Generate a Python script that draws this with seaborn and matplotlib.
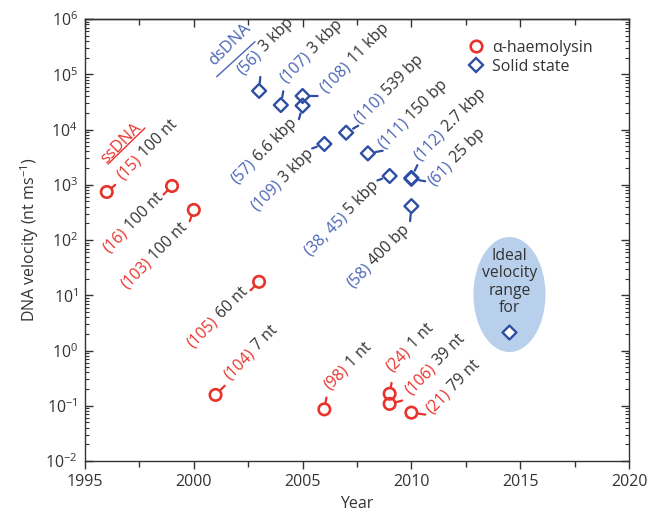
import numpy as np
import pandas as pd
import matplotlib
matplotlib.use("Agg")
import matplotlib.pyplot as plt
import matplotlib.transforms as mtransforms
from matplotlib.patches import Ellipse
from matplotlib.lines import Line2D
from matplotlib.font_manager import FontProperties
from matplotlib.ticker import FixedLocator, LogLocator, NullFormatter
import seaborn as sns

# ---------------------------------------------------------------- data
# alpha-haemolysin pores
ah_year = [1996, 1999, 2000, 2003, 2001, 2006, 2009, 2009, 2010]
ah_velocity = [740, 950, 350, 17.5, 0.157, 0.086, 0.165, 0.108, 0.075]
ah_ref = ["(15)", "(16)", "(103)", "(105)", "(104)", "(98)", "(24)", "(106)", "(21)"]
ah_length = ["100 nt", "100 nt", "100 nt", "60 nt", "7 nt", "1 nt", "1 nt", "39 nt", "79 nt"]

# solid-state pores
ss_year = [2003, 2004, 2005, 2005, 2006, 2007, 2008, 2009, 2010, 2010, 2010]
ss_velocity = [50000, 27700, 40400, 27000, 5470, 8750, 3700, 1440, 1330, 1280, 410]
ss_ref = ["(56)", "(107)", "(108)", "(57)", "(109)", "(110)", "(111)", "(38, 45)",
          "(112)", "(61)", "(58)"]
ss_length = ["3 kbp", "3 kbp", "11 kbp", "6.6 kbp", "3 kbp", "539 bp", "150 bp",
             "5 kbp", "2.7 kbp", "25 bp", "400 bp"]

# target for sequencing
ideal_year = [2014.5]
ideal_velocity = [2.2]

x_ticks = [1995, 2000, 2005, 2010, 2015, 2020]

# ---------------------------------------------------------------- layout of the callouts
# stick: (angle in degrees, start radius px, end radius px)
# label: (dx px, dy px, side) -- 'L' text runs up-right from the anchor,
#                                'R' text ends at the anchor
ah_stick = [(40, 6, 11), (225, 6, 12), (250, 6, 12), (225, 6, 12), (45, 6, 13),
            (80, 6, 12), (80, 6, 11), (15, 6, 13), (-8, 7, 14)]
ah_label = [(16, 12, "L"), (-8, -12, "R"), (-6, -18, "R"), (-11, -11, "R"),
            (14, 15, "L"), (5, 19, "L"), (2, 22, "L"), (21, 9, "L"), (20, -2, "L")]
ss_stick = [(85, 8, 14), (80, 8, 14), (0, 8, 15), (255, 8, 14), (200, 8, 13),
            (30, 8, 14), (10, 8, 15), (200, 8, 13), (65, 8, 14), (-10, 8, 14),
            (265, 8, 15)]
ss_label = [(-16, 16, "L"), (5, 22, "L"), (23, 3, "L"), (-5, -18, "R"),
            (-10, -10, "R"), (13, 8, "L"), (16, 4, "L"), (-10, -10, "R"),
            (8, 17, "L"), (22, -7, "L"), (-1, -24, "R")]

RED = "#E8332B"
BLUE = "#2D4EA3"
BLUE_TXT = "#4A64B6"
DARK = "#333333"
FS = 11.3

sns.set_theme(style="ticks")
plt.rcParams["font.family"] = ["Open Sans", "DejaVu Sans"]
plt.rcParams["mathtext.default"] = "regular"
plt.rcParams["axes.edgecolor"] = DARK
plt.rcParams["axes.linewidth"] = 1.0
plt.rcParams["xtick.color"] = DARK
plt.rcParams["ytick.color"] = DARK
plt.rcParams["text.color"] = DARK
plt.rcParams["axes.labelcolor"] = DARK

fig = plt.figure(figsize=(6.51, 5.15), dpi=100)
ax = fig.add_axes([85 / 651, 1 - 461 / 515, 544 / 651, 442 / 515])

ah_df = pd.DataFrame({"year": ah_year, "velocity": ah_velocity})
ss_df = pd.DataFrame({"year": ss_year, "velocity": ss_velocity})
ideal_df = pd.DataFrame({"year": ideal_year, "velocity": ideal_velocity})

ax.set_yscale("log")
ax.set_xlim(1995, 2020)
ax.set_ylim(1e-2, 1e6)

# shaded target region behind everything
ax.add_patch(Ellipse((0.7803, 0.3767), 0.1324, 0.2602, transform=ax.transAxes,
                     facecolor="#B9D0EC", edgecolor="none", zorder=0))
ax.text(0.7803, 0.405, "Ideal\nvelocity\nrange\nfor", transform=ax.transAxes,
        ha="center", va="center", fontsize=FS, color=DARK, linespacing=1.12, zorder=1)

sns.scatterplot(data=ah_df, x="year", y="velocity", marker="o", s=68,
                facecolor="none", edgecolor=RED, linewidth=1.9, ax=ax, zorder=3)
sns.scatterplot(data=ss_df, x="year", y="velocity", marker="D", s=50,
                facecolor="none", edgecolor=BLUE, linewidth=1.7, ax=ax, zorder=3)
sns.scatterplot(data=ideal_df, x="year", y="velocity", marker="D", s=50,
                facecolor="white", edgecolor=BLUE, linewidth=1.7, ax=ax, zorder=3)

renderer = fig.canvas.get_renderer()
label_font = FontProperties(family=["Open Sans", "DejaVu Sans"], size=FS)


def text_width(s):
    w, _, _ = renderer.get_text_width_height_descent(s, label_font, ismath=False)
    return w


c45 = s45 = np.sqrt(0.5)


def shifted(dx, dy):
    return ax.transData + mtransforms.Affine2D().translate(dx, dy)


def callout(x, y, ref, value, color, ref_color, stick, label):
    ang, r0, r1 = stick
    a = np.deg2rad(ang)
    ax.annotate("", xy=(x, y), xycoords=shifted(r0 * np.cos(a), r0 * np.sin(a)),
                xytext=(x, y), textcoords=shifted(r1 * np.cos(a), r1 * np.sin(a)),
                arrowprops=dict(arrowstyle="-", color=color, lw=1.6,
                                shrinkA=0, shrinkB=0), zorder=2)
    dx, dy, side = label
    w_full = text_width(ref + " " + value)
    w_val = text_width(value)
    w_ref = w_full - w_val
    if side == "R":
        dx, dy = dx - w_full * c45, dy - w_full * s45
    for txt, col, off in ((ref, ref_color, 0.0), (value, DARK, w_ref)):
        ax.text(x, y, txt, color=col, fontproperties=label_font, rotation=45,
                rotation_mode="anchor", ha="left", va="baseline",
                transform=shifted(dx + off * c45, dy + off * s45))


for i in range(len(ah_year)):
    callout(ah_year[i], ah_velocity[i], ah_ref[i], ah_length[i], RED, RED,
            ah_stick[i], ah_label[i])
for i in range(len(ss_year)):
    callout(ss_year[i], ss_velocity[i], ss_ref[i], ss_length[i], BLUE, BLUE_TXT,
            ss_stick[i], ss_label[i])

# group headings with underline
ax.text(0.0662, 0.7195, "ssDNA", transform=ax.transAxes, rotation=45,
        ha="center", va="center", rotation_mode="anchor", fontsize=FS + 0.5, color=RED)
ax.plot([0.0423, 0.1103], [0.6719, 0.7534], transform=ax.transAxes, color=RED, lw=1.0)
ax.text(0.2665, 0.9412, "dsDNA", transform=ax.transAxes, rotation=45,
        ha="center", va="center", rotation_mode="anchor", fontsize=FS + 0.5, color=BLUE_TXT)
ax.plot([0.2421, 0.3125], [0.8695, 0.9487], transform=ax.transAxes, color=BLUE_TXT, lw=1.0)

# axes, ticks
ax.set_xticks(x_ticks)
ax.xaxis.set_minor_locator(FixedLocator(np.arange(1997.5, 2020, 5)))
ax.yaxis.set_major_locator(LogLocator(base=10, numticks=20))
ax.yaxis.set_minor_locator(LogLocator(base=10, subs=np.arange(2, 10), numticks=100))
ax.yaxis.set_minor_formatter(NullFormatter())
ax.tick_params(axis="x", which="major", direction="out", length=6, width=1.0,
               labelsize=11.5, pad=3, top=False)
ax.tick_params(axis="x", which="minor", direction="out", length=4, width=1.0, top=False)
ax.tick_params(axis="y", which="major", direction="in", length=6, width=1.0,
               labelsize=11.5, left=True, right=True, pad=5)
ax.tick_params(axis="y", which="minor", direction="in", length=3, width=0.8,
               left=True, right=True)
top = ax.secondary_xaxis("top")
top.set_xticks(x_ticks)
top.xaxis.set_minor_locator(FixedLocator(np.arange(1997.5, 2020, 5)))
top.tick_params(axis="x", which="major", direction="in", length=6, width=1.0, labeltop=False)
top.tick_params(axis="x", which="minor", direction="in", length=4, width=1.0)
top.spines["top"].set_color(DARK)

ax.set_xlabel("Year", fontsize=11.5, labelpad=5)
ax.set_ylabel("DNA velocity (nt ms$^{-1}$)", fontsize=11.5, labelpad=3)

legend_handles = [
    Line2D([], [], marker="o", ls="none", markersize=8.3, markerfacecolor="none",
           markeredgecolor=RED, markeredgewidth=1.9, label="\u03b1-haemolysin"),
    Line2D([], [], marker="D", ls="none", markersize=7, markerfacecolor="none",
           markeredgecolor=BLUE, markeredgewidth=1.7, label="Solid state"),
]
ax.legend(handles=legend_handles, loc="upper left", bbox_to_anchor=(0.693, 0.968),
          frameon=False, fontsize=11.5, handlelength=1.0, handletextpad=0.5,
          labelspacing=0.22, borderaxespad=0)

fig.savefig("out.png", dpi=100)
